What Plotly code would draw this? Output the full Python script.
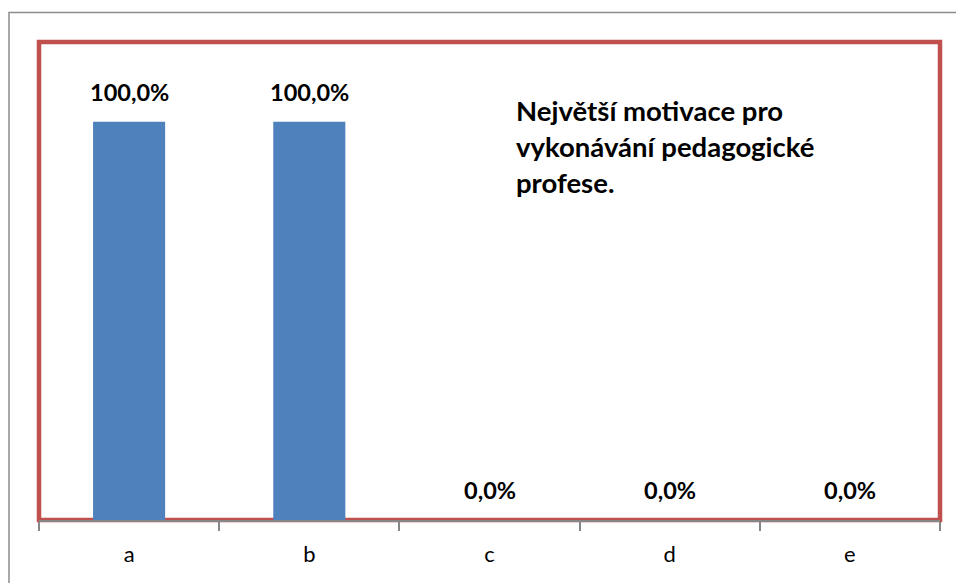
import plotly.graph_objects as go

categories = ['a', 'b', 'c', 'd', 'e']
values = [100.0, 100.0, 0.0, 0.0, 0.0]
labels = ['100,0%', '100,0%', '0,0%', '0,0%', '0,0%']
title_text = 'Největší motivace pro<br>vykonávání pedagogické<br>profese.'

FONT = 'Lato, Carlito, Calibri, sans-serif'

fig = go.Figure()

fig.add_trace(go.Bar(
    x=categories, y=values,
    marker_color='#4F81BD', marker_line_width=0,
    hoverinfo='skip', showlegend=False,
))

# value labels above the bars
for c, v, t in zip(categories, values, labels):
    fig.add_annotation(x=c, y=v, text='<b>%s</b>' % t, showarrow=False,
                       yanchor='bottom', yshift=14,
                       font=dict(family=FONT, size=23.5, color='black'))

# title inside plot area
fig.add_annotation(x=0.527, y=0.895, xref='paper', yref='paper',
                   text='<b>%s</b>' % title_text, showarrow=False,
                   xanchor='left', yanchor='top', align='left',
                   font=dict(family=FONT, size=27.5, color='black'))

# outer gray chart border
fig.add_shape(type='rect', xref='paper', yref='paper',
              x0=-0.0333, x1=1.2, y0=-0.3, y1=1.0617,
              line=dict(color='#8C8C8C', width=1.5), layer='below')
# red plot area border
fig.add_shape(type='rect', xref='paper', yref='paper',
              x0=0, x1=1, y0=0, y1=1,
              line=dict(color='#C0504D', width=4.5), layer='below')

fig.update_layout(
    width=956, height=583, autosize=False,
    margin=dict(l=39, r=16, t=42, b=63),
    plot_bgcolor='white', paper_bgcolor='white',
    bargap=0.6,
    font=dict(family=FONT, size=22, color='black'),
    xaxis=dict(showgrid=False, zeroline=False, showline=True,
               linecolor='#868686', linewidth=2,
               ticks='outside', tickson='boundaries', ticklen=9,
               tickcolor='#868686', tickwidth=2, ticklabelstandoff=14,
               tickfont=dict(family=FONT, size=22, color='black')),
    yaxis=dict(range=[0, 120], visible=False, showgrid=False, zeroline=False),
)

fig.write_html('out.html', config={'displayModeBar': False},
               post_script="document.body.style.margin='0px';document.body.style.overflow='hidden';")
